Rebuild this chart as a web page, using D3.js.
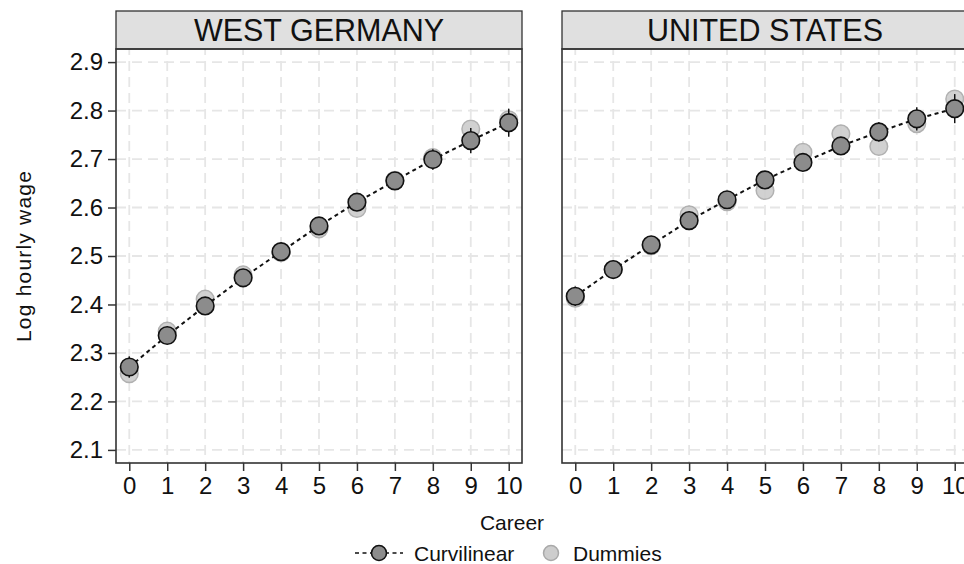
<!DOCTYPE html>
<html><head><meta charset="utf-8">
<script src="https://cdn.jsdelivr.net/npm/d3@7"></script>
<style>
body{margin:0;background:#fff;}
svg{display:block;font-family:"Liberation Sans",Arial,Helvetica,sans-serif;}
</style></head>
<body>
<svg id="c" width="964" height="564"></svg>
<script>
const career = [0,1,2,3,4,5,6,7,8,9,10];
const panels = ["WEST GERMANY","UNITED STATES"];
const yTicks = [2.1,2.2,2.3,2.4,2.5,2.6,2.7,2.8,2.9];
// West Germany
const deCurv  = [2.271,2.336,2.397,2.455,2.509,2.562,2.611,2.655,2.699,2.738,2.775];
const deCI    = [0.022,0.016,0.014,0.012,0.012,0.013,0.015,0.018,0.021,0.026,0.029];
const deDummy = [2.257,2.345,2.411,2.461,2.507,2.556,2.598,2.656,2.703,2.762,2.781];
// United States
const usCurv  = [2.417,2.472,2.523,2.573,2.616,2.657,2.693,2.727,2.756,2.783,2.804];
const usCI    = [0.020,0.014,0.012,0.011,0.011,0.012,0.013,0.016,0.020,0.024,0.030];
const usDummy = [2.413,2.472,2.521,2.585,2.612,2.635,2.714,2.752,2.726,2.773,2.824];

const curvSeries = [deCurv, usCurv];
const ciSeries = [deCI, usCI];
const dummySeries = [deDummy, usDummy];

(function(){
const svg = d3.select("#c");
const panelX = [116, 562];
const panelW = 406;
const plotTop = 49, plotBottom = 463, stripTop = 11;

const y = d3.scaleLinear().domain([2.073, 2.927]).range([plotBottom, plotTop]);

const darkFill = "#8c8c8c", lightFill = "#cdcdcd", lightStroke = "#a9a9a9";

panels.forEach((name, p) => {
  const x0 = panelX[p];
  const x = d3.scaleLinear().domain([-0.35, 10.35]).range([x0, x0 + panelW]);
  const g = svg.append("g");

  // grid
  g.selectAll(".hg").data(yTicks).join("line")
    .attr("x1", x0).attr("x2", x0 + panelW)
    .attr("y1", d => y(d)).attr("y2", d => y(d))
    .attr("stroke", "#e6e6e6").attr("stroke-width", 1.8).attr("stroke-dasharray", "10,6");
  g.selectAll(".vg").data(career).join("line")
    .attr("x1", d => x(d)).attr("x2", d => x(d))
    .attr("y1", plotTop).attr("y2", plotBottom)
    .attr("stroke", "#e6e6e6").attr("stroke-width", 1.8).attr("stroke-dasharray", "10,6")
    .attr("stroke-dashoffset", 4);

  // strip
  g.append("rect").attr("x", x0).attr("y", stripTop).attr("width", panelW).attr("height", plotTop - stripTop)
    .attr("fill", "#e0e0e0").attr("stroke", "#333").attr("stroke-width", 1.3);
  g.append("text").attr("x", x0 + panelW / 2).attr("y", 41).attr("text-anchor", "middle")
    .attr("font-size", 30.5).attr("fill", "#111").text(name);

  // panel border
  g.append("rect").attr("x", x0).attr("y", plotTop).attr("width", panelW).attr("height", plotBottom - plotTop)
    .attr("fill", "none").attr("stroke", "#333").attr("stroke-width", 1.6);

  // dummies (light)
  const dd = career.map((c, i) => ({c, v: dummySeries[p][i]}));
  g.selectAll(".dm").data(dd).join("circle")
    .attr("cx", d => x(d.c)).attr("cy", d => y(d.v)).attr("r", 8.8)
    .attr("fill", lightFill).attr("stroke", lightStroke).attr("stroke-width", 1.5).attr("opacity", 0.9);

  // dashed fitted line
  const cd = career.map((c, i) => ({c, v: curvSeries[p][i], e: ciSeries[p][i]}));
  g.append("path").datum(cd)
    .attr("d", d3.line().x(d => x(d.c)).y(d => y(d.v)))
    .attr("fill", "none").attr("stroke", "#111").attr("stroke-width", 2).attr("stroke-dasharray", "4,3.5");

  // error bars
  g.selectAll(".eb").data(cd).join("line")
    .attr("x1", d => x(d.c)).attr("x2", d => x(d.c))
    .attr("y1", d => y(d.v - d.e)).attr("y2", d => y(d.v + d.e))
    .attr("stroke", "#111").attr("stroke-width", 1.5);

  // curvilinear points
  g.selectAll(".cv").data(cd).join("circle")
    .attr("cx", d => x(d.c)).attr("cy", d => y(d.v)).attr("r", 8.8)
    .attr("fill", darkFill).attr("stroke", "#111").attr("stroke-width", 1.6);

  // x axis
  const xa = g.append("g").attr("transform", `translate(0,${plotBottom})`)
    .call(d3.axisBottom(x).tickValues(career).tickSize(8).tickSizeOuter(0).tickPadding(6));
  xa.select(".domain").remove();
  xa.selectAll("line").attr("stroke", "#333").attr("stroke-width", 1.5);
  xa.selectAll("text").attr("font-size", 24).attr("fill", "#111").attr("font-family", null);

  if (p === 0) {
    const ya = g.append("g").attr("transform", `translate(${x0},0)`)
      .call(d3.axisLeft(y).tickValues(yTicks).tickFormat(d3.format(".1f")).tickSize(8).tickSizeOuter(0).tickPadding(5));
    ya.select(".domain").remove();
    ya.selectAll("line").attr("stroke", "#333").attr("stroke-width", 1.5);
    ya.selectAll("text").attr("font-size", 24).attr("fill", "#111").attr("font-family", null);
  }
});

// axis titles
svg.append("text").attr("x", 512).attr("y", 530).attr("text-anchor", "middle")
  .attr("font-size", 21).attr("fill", "#111").text("Career");
svg.append("text").attr("transform", "translate(31,256) rotate(-90)").attr("text-anchor", "middle")
  .attr("font-size", 21).attr("fill", "#111").attr("letter-spacing", 1.2).text("Log hourly wage");

// legend
const ly = 553;
const lg = svg.append("g");
lg.append("line").attr("x1", 355).attr("x2", 403).attr("y1", ly).attr("y2", ly)
  .attr("stroke", "#111").attr("stroke-width", 1.6).attr("stroke-dasharray", "4,3.5");
lg.append("circle").attr("cx", 379).attr("cy", ly).attr("r", 7.5)
  .attr("fill", darkFill).attr("stroke", "#111").attr("stroke-width", 1.6);
lg.append("text").attr("x", 414).attr("y", ly + 7.5).attr("font-size", 21).attr("fill", "#111").text("Curvilinear");
lg.append("circle").attr("cx", 551).attr("cy", ly).attr("r", 7.5)
  .attr("fill", lightFill).attr("stroke", lightStroke).attr("stroke-width", 1.5);
lg.append("text").attr("x", 573).attr("y", ly + 7.5).attr("font-size", 21).attr("fill", "#111").text("Dummies");
})();
</script>
</body></html>
